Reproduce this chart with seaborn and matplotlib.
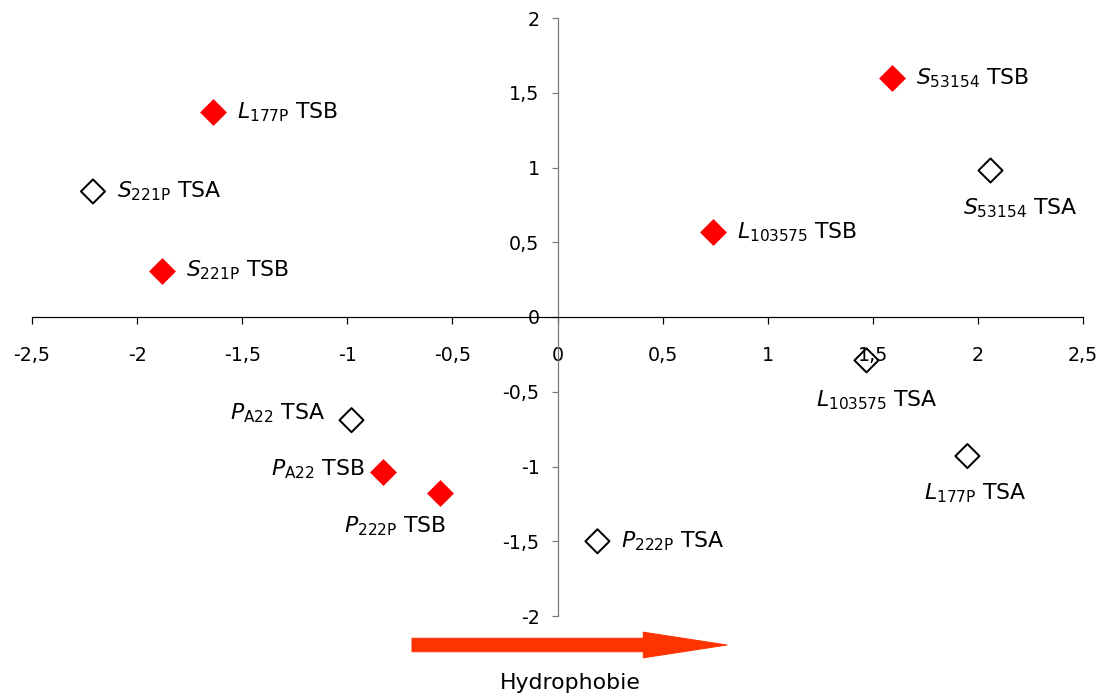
import matplotlib
matplotlib.use("Agg")
import matplotlib.pyplot as plt
import seaborn as sns
import pandas as pd
from matplotlib.ticker import FuncFormatter

# Data
letters = ["L", "S", "S", "S", "S", "L", "L", "L", "P", "P", "P", "P"]
subs = ["177P", "221P", "221P", "53154", "53154", "103575",
        "103575", "177P", "A22", "A22", "222P", "222P"]
groups = ["TSB", "TSA", "TSB", "TSB", "TSA", "TSB",
          "TSA", "TSA", "TSA", "TSB", "TSB", "TSA"]
x_vals = [-1.64, -2.21, -1.88, 1.59, 2.06, 0.74, 1.47, 1.95, -0.98, -0.83, -0.56, 0.19]
y_vals = [1.37, 0.84, 0.31, 1.60, 0.98, 0.57, -0.29, -0.93, -0.69, -1.04, -1.18, -1.50]
x_ticks = [-2.5, -2, -1.5, -1, -0.5, 0, 0.5, 1, 1.5, 2, 2.5]
y_ticks = [-2, -1.5, -1, -0.5, 0, 0.5, 1, 1.5, 2]
axis_title = "Hydrophobie"

# label placement: (dx, dy in px, ha, va)
label_pos = [
    (24, 0, "left", "center"),
    (24, 0, "left", "center"),
    (24, 0, "left", "center"),
    (24, 0, "left", "center"),
    (30, -38, "center", "center"),
    (24, 0, "left", "center"),
    (10, -40, "center", "center"),
    (8, -37, "center", "center"),
    (-26, 7, "right", "center"),
    (-18, 3, "right", "center"),
    (-45, -33, "center", "center"),
    (24, 0, "left", "center"),
]

df = pd.DataFrame({"x": x_vals, "y": y_vals, "group": groups})

sns.set_theme(style="white")
plt.rcParams["font.family"] = ["DejaVu Sans"]
plt.rcParams["mathtext.fontset"] = "dejavusans"

DPI = 72
fig = plt.figure(figsize=(1104 / DPI, 700 / DPI), dpi=DPI)
fig.patch.set_facecolor("white")
ax = fig.add_axes([32 / 1104, 1 - 616 / 700, (1083 - 32) / 1104, (616 - 18) / 700])
ax.set_facecolor("white")

tsb = df[df["group"] == "TSB"]
tsa = df[df["group"] == "TSA"]
sns.scatterplot(data=tsb, x="x", y="y", ax=ax, marker="D", s=19**2,
                color="#ff0000", edgecolor="#ff0000", linewidth=0, zorder=5, legend=False)
sns.scatterplot(data=tsa, x="x", y="y", ax=ax, marker="D", s=17**2,
                facecolor="none", edgecolor="black", linewidth=2, zorder=5, legend=False)

for i in range(len(x_vals)):
    dx, dy, ha, va = label_pos[i]
    txt = r"$\mathit{%s}_{\mathrm{%s}}$ %s" % (letters[i], subs[i], groups[i])
    ax.annotate(txt, (x_vals[i], y_vals[i]), xytext=(dx, dy), textcoords="offset points",
                ha=ha, va=va, fontsize=22, color="black", zorder=6)

ax.set_xlim(-2.5, 2.5)
ax.set_ylim(-2, 2)
ax.set_xticks(x_ticks)
ax.set_yticks(y_ticks)
fmt = FuncFormatter(lambda v, p: ("%g" % v).replace(".", ","))
ax.xaxis.set_major_formatter(fmt)
ax.yaxis.set_major_formatter(fmt)

for s in ["top", "right"]:
    ax.spines[s].set_visible(False)
ax.spines["left"].set_position(("data", 0))
ax.spines["bottom"].set_position(("data", 0))
ax.spines["left"].set_color("#777777")
ax.spines["left"].set_linewidth(1.2)
ax.spines["bottom"].set_color("black")
ax.spines["bottom"].set_linewidth(1.2)

ax.tick_params(axis="x", direction="out", length=7, width=1.2, color="black",
               pad=22, labelsize=19, labelcolor="black", bottom=True)
ax.tick_params(axis="y", direction="out", length=6, width=1.2, color="#777777",
               pad=12, labelsize=19, labelcolor="black", left=True)
ax.set_xlabel("")
ax.set_ylabel("")
ax.grid(False)

# Arrow and title below the plot
ax.annotate("", xy=(727 / 1104, 1 - 645 / 700), xytext=(412 / 1104, 1 - 645 / 700),
            xycoords="figure fraction", textcoords="figure fraction",
            arrowprops=dict(arrowstyle="simple,head_length=6.2,head_width=1.9,tail_width=1.0",
                            color="#ff3300", mutation_scale=13.5, shrinkA=0, shrinkB=0))
fig.text(570 / 1104, 1 - 683 / 700, axis_title, ha="center", va="center", fontsize=22,
         color="black")

fig.savefig("out.png", dpi=DPI, facecolor="white")
